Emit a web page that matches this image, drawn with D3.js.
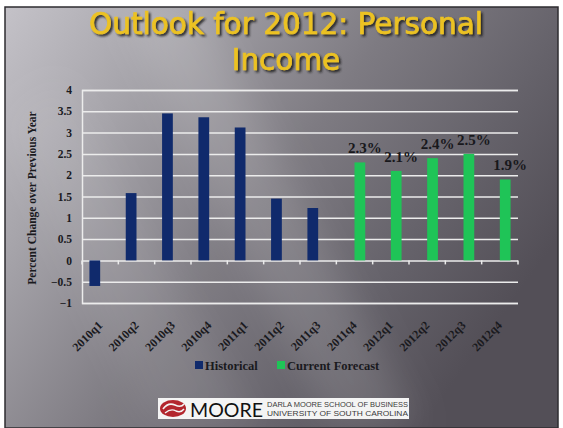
<!DOCTYPE html>
<html>
<head>
<meta charset="utf-8">
<script src="https://cdn.jsdelivr.net/npm/d3@7"></script>
<style>
html,body{margin:0;padding:0;background:#fff;}
svg{display:block;}
</style>
</head>
<body>
<svg id="chart" width="563" height="428"></svg>
<script>
const categories = ["2010q1","2010q2","2010q3","2010q4","2011q1","2011q2","2011q3","2011q4","2012q1","2012q2","2012q3","2012q4"];
const seriesNames = ["Historical","Current Forecast"];
const historical = [-0.6, 1.58, 3.45, 3.36, 3.12, 1.45, 1.23, null, null, null, null, null];
const forecast = [null, null, null, null, null, null, null, 2.3, 2.1, 2.4, 2.5, 1.9];
const yTicks = [-1, -0.5, 0, 0.5, 1, 1.5, 2, 2.5, 3, 3.5, 4];
const titleLines = ["Outlook for 2012: Personal", "Income"];
const yTitle = "Percent Change over Previous Year";
const seriesColors = ["#102a6c", "#1fc457"];

const svg = d3.select("#chart");
const defs = svg.append("defs");

// background gradient
const bg = defs.append("linearGradient").attr("id","bg")
  .attr("x1","0").attr("y1","0").attr("x2","1").attr("y2","0.55");
[[0,"#c4c2c8"],[0.25,"#a6a4aa"],[0.55,"#7e7b82"],[0.8,"#65626a"],[1,"#534f57"]]
  .forEach(([o,c])=>bg.append("stop").attr("offset",o).attr("stop-color",c));
const blur = defs.append("filter").attr("id","blur").attr("x","-50%").attr("y","-50%").attr("width","200%").attr("height","200%");
blur.append("feGaussianBlur").attr("stdDeviation",18);
const shadow = defs.append("filter").attr("id","shadow").attr("x","-10%").attr("y","-30%").attr("width","120%").attr("height","160%");
shadow.append("feDropShadow").attr("dx",2).attr("dy",2).attr("stdDeviation",1.3)
  .attr("flood-color","#1a1a1a").attr("flood-opacity",0.9);

// slide
svg.append("rect").attr("x",5).attr("y",7).attr("width",553).attr("height",421).attr("fill","url(#bg)");
const streaks = svg.append("g").attr("filter","url(#blur)");
streaks.append("polygon").attr("points","120,7 200,7 420,428 330,428").attr("fill","#ffffff").attr("opacity",0.12);
streaks.append("polygon").attr("points","5,120 60,80 260,428 150,428").attr("fill","#ffffff").attr("opacity",0.08);
svg.append("rect").attr("x",5).attr("y",7).attr("width",553).attr("height",421)
  .attr("fill","none").attr("stroke","#2e2c30").attr("stroke-width",1.5);

// title
svg.append("g").attr("filter","url(#shadow)")
  .selectAll("text").data(titleLines).join("text")
  .attr("x",286).attr("y",(d,i)=>34+i*36)
  .attr("text-anchor","middle")
  .attr("font-family","DejaVu Sans, Verdana, sans-serif")
  .attr("font-size",29.5)
  .attr("fill","#ecc224")
  .attr("stroke","#ecc224").attr("stroke-width",0.7)
  .text(d=>d);

// scales
const x0 = d3.scaleBand().domain(categories).range([82,518]).padding(0);
const x1 = d3.scaleBand().domain(seriesNames).range([0,x0.bandwidth()]).paddingInner(0).paddingOuter(0.69);
const y = d3.scaleLinear().domain([-1,4]).range([303,90]);

const serif = "Liberation Serif, Times New Roman, serif";

// gridlines + y axis
const yAxis = svg.append("g").attr("transform","translate(82,0)")
  .call(d3.axisLeft(y).tickValues(yTicks).tickSize(-(518-82)).tickPadding(10).tickFormat(d3.format("")));
yAxis.select(".domain").attr("stroke","#ececec").attr("stroke-width",1.5);
yAxis.selectAll(".tick line").attr("stroke","#ececec").attr("stroke-width",1.5);
yAxis.selectAll(".tick text").attr("font-family",serif).attr("font-weight","bold")
  .attr("font-size",11.5).attr("fill","#1a1a1e");

// zero line ticks at band boundaries
const bounds = categories.map(c=>x0(c)).concat([x0.range()[1]]);
svg.append("g").selectAll("line").data(bounds).join("line")
  .attr("x1",d=>d).attr("x2",d=>d).attr("y1",y(0)).attr("y2",y(0)+4)
  .attr("stroke","#ececec").attr("stroke-width",1.5);

// bars
const rows = categories.map((c,i)=>({c, vals:[historical[i], forecast[i]]}));
const groups = svg.append("g").selectAll("g").data(rows).join("g")
  .attr("transform",d=>`translate(${x0(d.c)},0)`);
groups.selectAll("rect").data(d=>d.vals.map((v,k)=>({v,k})).filter(e=>e.v!==null)).join("rect")
  .attr("x",e=>x1(seriesNames[e.k]))
  .attr("width",x1.bandwidth())
  .attr("y",e=>y(Math.max(0,e.v)))
  .attr("height",e=>Math.abs(y(e.v)-y(0)))
  .attr("fill",e=>seriesColors[e.k]);

// forecast labels
const fmt = d3.format(".1f");
svg.append("g").selectAll("text")
  .data(categories.map((c,i)=>({c,v:forecast[i]})).filter(d=>d.v!==null))
  .join("text")
  .attr("x",d=>x0(d.c)+x1("Current Forecast")+x1.bandwidth()/2+5)
  .attr("y",d=>y(d.v)-9)
  .attr("text-anchor","middle")
  .attr("font-family",serif).attr("font-weight","bold").attr("font-size",15)
  .attr("fill","#18181c")
  .text(d=>fmt(d.v)+"%");

// x labels
const xAxis = svg.append("g").attr("transform","translate(0,303)")
  .call(d3.axisBottom(x0).tickSize(0));
xAxis.select(".domain").remove();
xAxis.selectAll(".tick text")
  .attr("x",0).attr("y",0).attr("dy",0)
  .attr("transform","translate(3,23) rotate(-45)")
  .attr("text-anchor","end")
  .attr("font-family",serif).attr("font-weight","bold").attr("font-size",12)
  .attr("fill","#1a1a1e");

// y title
svg.append("text")
  .attr("transform","translate(36,198) rotate(-90)")
  .attr("text-anchor","middle")
  .attr("font-family",serif).attr("font-weight","bold").attr("font-size",11.5)
  .attr("fill","#1a1a1e")
  .text(yTitle);

// legend
const legendX = [195, 277];
const lg = svg.append("g").selectAll("g").data(seriesNames).join("g")
  .attr("transform",(d,i)=>`translate(${legendX[i]},361)`);
lg.append("rect").attr("width",8).attr("height",8).attr("fill",(d,i)=>seriesColors[i]);
lg.append("text").attr("x",10).attr("y",8.5)
  .attr("font-family",serif).attr("font-weight","bold").attr("font-size",12.5)
  .attr("fill","#1a1a1e").text(d=>d);

// logo
const logo = svg.append("g");
logo.append("rect").attr("x",158).attr("y",398).attr("width",251).attr("height",21).attr("fill","#f4f4f4");
logo.append("ellipse").attr("cx",173).attr("cy",408.5).attr("rx",13).attr("ry",8.5).attr("fill","#b3262e");
logo.append("path").attr("d","M163,409 q5,-7 12,-4 q6,3 9,-1").attr("fill","none").attr("stroke","#f4f4f4").attr("stroke-width",1.6);
logo.append("path").attr("d","M165,413 q6,-5 11,-2 q5,2 8,-2").attr("fill","none").attr("stroke","#f4f4f4").attr("stroke-width",1.4);
logo.append("text").attr("x",190).attr("y",416.5)
  .attr("font-family","Lato, DejaVu Sans, sans-serif").attr("font-size",20)
  .attr("textLength",73).attr("lengthAdjust","spacingAndGlyphs")
  .attr("fill","#111").text("MOORE");
logo.append("text").attr("x",267).attr("y",406.5)
  .attr("font-family","Liberation Sans, Arial, sans-serif").attr("font-size",7.2)
  .attr("textLength",141).attr("lengthAdjust","spacingAndGlyphs")
  .attr("fill","#3a3a3a").text("DARLA MOORE SCHOOL OF BUSINESS");
logo.append("text").attr("x",267).attr("y",415.5)
  .attr("font-family","Liberation Sans, Arial, sans-serif").attr("font-size",7.2)
  .attr("textLength",141).attr("lengthAdjust","spacingAndGlyphs")
  .attr("fill","#3a3a3a").text("UNIVERSITY OF SOUTH CAROLINA");
</script>
</body>
</html>
